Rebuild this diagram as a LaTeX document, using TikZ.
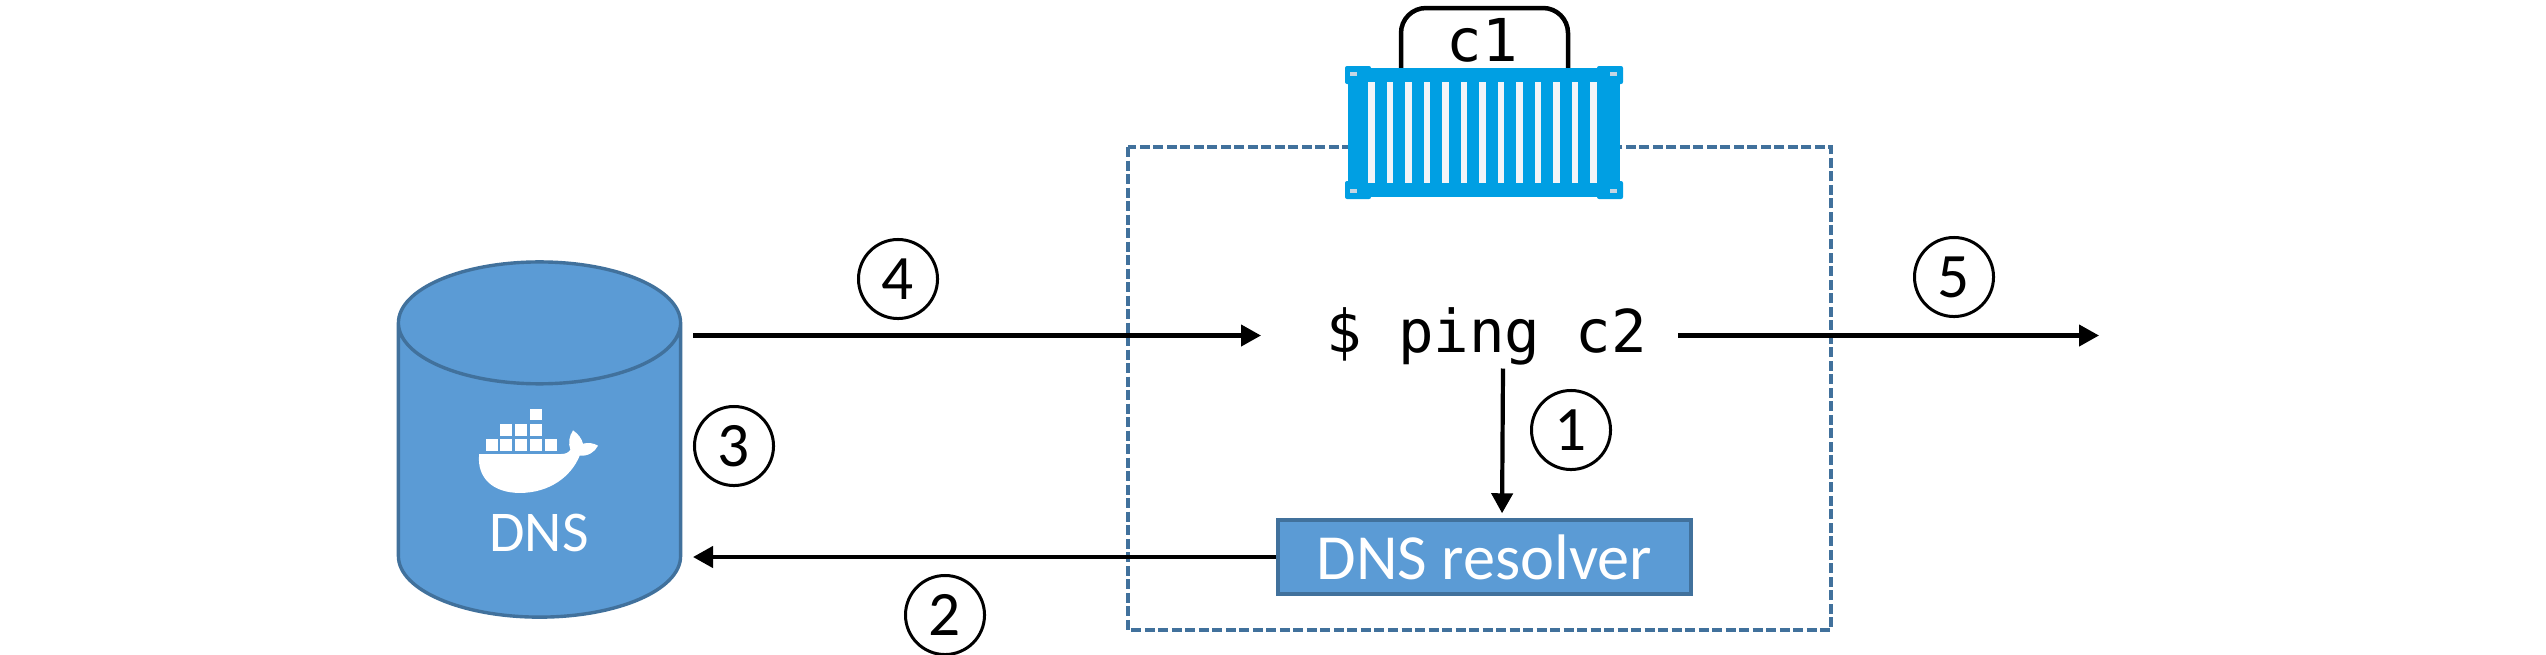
\documentclass[tikz,border=0pt]{standalone}
\usepackage{fontspec}
\setmainfont{Carlito}
\setmonofont{DejaVu Sans Mono}
\usetikzlibrary{arrows.meta,shapes.geometric}
\definecolor{dnsfill}{HTML}{5B9BD5}
\definecolor{dnsline}{HTML}{41719C}
\definecolor{boxblue}{HTML}{009FE3}
\definecolor{boxstripe}{HTML}{F2F4F8}
\definecolor{boxlatch}{HTML}{C5D5E3}
\tikzset{
    flow/.style={line width=0.042cm,-{Triangle[length=2mm,width=2.1mm]}},
    stepnum/.style={draw,circle,inner sep=0pt,line width=0.03cm,minimum size=0.79cm,font=\fontsize{18}{20}\selectfont},
    white label/.style={text=white,inner sep=0pt},
    mono label/.style={inner sep=0pt,font=\ttfamily\fontsize{16.8}{20}\selectfont}
}
\begin{document}
\begin{tikzpicture}[x=0.01cm,y=-0.01cm]
    \useasboundingbox (0,0) rectangle (2546,654);
    \draw[dnsline,line width=0.034cm,dash pattern=on 0.1cm off 0.035cm] (1128,147) rectangle (1831,630);
    % container
    \draw[line width=0.045cm,rounded corners=0.25cm] (1401,70) -- (1401,8) -- (1568,8) -- (1568,70);
    \node[mono label] (c1) at (1482,40) {c1};
    \fill[boxblue] (1348,68) rectangle (1620,197);
    \foreach \cx in {1345,1597} {
        \foreach \cy in {66,181} {
            \fill[boxblue,rounded corners=0.02cm] (\cx,\cy) rectangle ++(26,18);
        }
    }
    \foreach \cx in {1350,1610} {
        \foreach \cy in {72,189} {
            \fill[boxlatch] (\cx,\cy) rectangle ++(7,4);
        }
    }
    \foreach \i in {0,...,12} {
        \fill[boxstripe] ({1368+18.5*\i},82) rectangle ++(6.5,101);
    }
    % dns
    \node[draw=dnsline,fill=dnsfill,line width=0.034cm,cylinder,shape border rotate=90,aspect=5.2,minimum width=2.82cm,minimum height=3.55cm] (dns) at (539.5,483) {};
    \begin{scope}[shift={(380,240)},x=0.00333cm,y=-0.00333cm]
        \foreach \bx/\by in {318/598,362/598,407/598,451/598,497/598,362/553,407/553,451/553,451/507} {
            \fill[white] (\bx,\by) rectangle ++(36,35);
        }
        \fill[white] (298,643) -- (545,643) .. controls (558,643) and (568,638) .. (572,630)
            .. controls (565,610) and (568,590) .. (580,572) .. controls (595,582) and (606,596) .. (610,612)
            .. controls (625,608) and (642,610) .. (655,618) .. controls (645,638) and (625,650) .. (600,648)
            .. controls (575,710) and (510,760) .. (420,760) .. controls (340,760) and (290,715) .. (298,643) -- cycle;
    \end{scope}
    \node[white label,font=\fontsize{16.4}{20}\selectfont] (dnslabel) at (539,533) {DNS};
    % resolver and ping
    \node[draw=dnsline,fill=dnsfill,line width=0.034cm,white label,font=\fontsize{18.3}{20}\selectfont,minimum width=4.13cm,minimum height=0.74cm] (resolver) at (1484.5,557) {DNS resolver};
    \node[mono label] (ping) at (1487,336) {\$ ping c2};
    \coordinate (dnsout) at (693,335.5);
    \coordinate (dnsin) at (693,557);
    \coordinate (pingin) at (1261,335.5);
    \coordinate (pingout) at (1678,335.5);
    \coordinate (farend) at (2099,335.5);
    \draw[flow] (dnsout) -- (pingin);
    \draw[flow] (pingout) -- (farend);
    \draw[flow,shorten <=0.03cm,shorten >=0.05cm] ([xshift=0.16cm]ping.south) -- ([xshift=0.175cm]resolver.north);
    \draw[flow] (resolver.west) -- (dnsin);
    \node[stepnum] (one) at (1571,430) {1};
    \node[stepnum] (two) at (945,615) {2};
    \node[stepnum] (three) at (734,446) {3};
    \node[stepnum] (four) at (898,279) {4};
    \node[stepnum] (five) at (1954,277) {5};
\end{tikzpicture}
\end{document}
